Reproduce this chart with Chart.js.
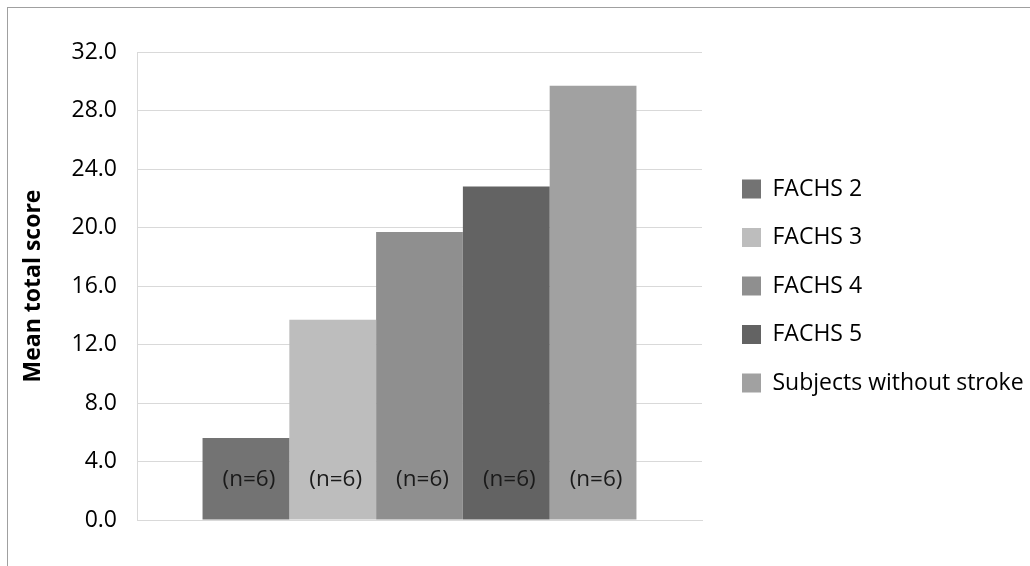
<!DOCTYPE html>
<html>
<head>
<meta charset="utf-8">
<script src="https://cdn.jsdelivr.net/npm/chart.js@4/dist/chart.umd.min.js"></script>
<style>
  html, body { margin: 0; padding: 0; background: #fff; overflow: hidden; }
  #frame { position: absolute; left: 7px; top: 7px; width: 1100px; height: 700px;
           border-left: 1px solid #a0a0a0; border-top: 1px solid #a0a0a0; }
  #wrap { position: absolute; left: 0; top: 0; width: 1030px; height: 566px; }
</style>
</head>
<body>
<div id="frame"></div>
<div id="wrap"><canvas id="chart" width="1030" height="566"></canvas></div>
<script>
// Groups and their mean total scores
const groups = ['FACHS 2', 'FACHS 3', 'FACHS 4', 'FACHS 5', 'Subjects without stroke'];
const meanScores = [5.6, 13.7, 19.7, 22.8, 29.7];
const sampleSizes = [6, 6, 6, 6, 6];
const groupColors = ['#737373', '#bdbdbd', '#8f8f8f', '#636363', '#a1a1a1'];
const yTickValues = [0, 4, 8, 12, 16, 20, 24, 28, 32];

const FONT = "'Open Sans', 'DejaVu Sans', sans-serif";
const CANVAS_W = 1030;
const LEGEND_FONT = 23;
const LEGEND_BOX = 19;
const LEGEND_PAD = 25.5;
const LEGEND_LEFT = 716.5;   // legend block starts here, boxes at LEGEND_LEFT + LEGEND_PAD

// Width the legend will claim: padding + box + half font + longest label + 10
function legendWidth() {
  const c = document.createElement('canvas').getContext('2d');
  c.font = LEGEND_FONT + 'px ' + FONT;
  const longest = Math.max(...groups.map(g => c.measureText(g).width));
  return LEGEND_PAD + LEGEND_BOX + LEGEND_FONT / 2 + longest + 10;
}
const LEGEND_W = legendWidth();

// Writes "(n=…)" inside the foot of each bar
const sampleSizeLabels = {
  id: 'sampleSizeLabels',
  afterDatasetsDraw(chart) {
    const ctx = chart.ctx;
    const area = chart.chartArea;
    ctx.save();
    ctx.font = '22.5px ' + FONT;
    ctx.fillStyle = '#1a1a1a';
    ctx.textAlign = 'center';
    ctx.textBaseline = 'middle';
    chart.data.datasets.forEach((ds, i) => {
      const bar = chart.getDatasetMeta(i).data[0];
      ctx.fillText('(n=' + sampleSizes[i] + ')', bar.x + 3, area.bottom - 40);
    });
    ctx.restore();
  }
};

new Chart(document.getElementById('chart'), {
  type: 'bar',
  data: {
    labels: [''],
    datasets: groups.map((g, i) => ({
      label: g,
      data: [meanScores[i]],
      backgroundColor: groupColors[i],
      borderWidth: 0,
      categoryPercentage: 0.768,
      barPercentage: 1.0
    }))
  },
  options: {
    responsive: false,
    animation: false,
    devicePixelRatio: 1,
    layout: { padding: { top: 52, bottom: 46, left: 0, right: CANVAS_W - LEGEND_LEFT - LEGEND_W } },
    plugins: {
      tooltip: { enabled: false },
      legend: {
        position: 'right',
        maxWidth: 600,
        labels: {
          boxWidth: LEGEND_BOX,
          boxHeight: LEGEND_BOX,
          padding: LEGEND_PAD,
          color: '#000',
          font: { family: FONT, size: LEGEND_FONT }
        }
      }
    },
    scales: {
      x: {
        ticks: { display: false },
        grid: { display: false },
        border: { display: true, color: '#d9d9d9', width: 1 },
        afterFit(scale) { scale.height = 0; }
      },
      y: {
        min: 0,
        max: 32,
        afterBuildTicks(scale) { scale.ticks = yTickValues.map(v => ({ value: v })); },
        afterFit(scale) { scale.width = 137; },
        ticks: {
          padding: 20,
          color: '#000',
          font: { family: FONT, size: 23 },
          callback: v => v.toFixed(1)
        },
        grid: { color: '#d9d9d9', drawTicks: false },
        border: { display: true, color: '#d9d9d9' },
        title: {
          display: true,
          text: 'Mean total score',
          color: '#000',
          font: { family: FONT, size: 23, weight: 'bold' },
          padding: { top: 20, bottom: 0 }
        }
      },
      gap: {
        position: 'right',
        display: true,
        grid: { display: false },
        border: { display: false },
        ticks: { display: false },
        afterFit(scale) { scale.width = 14.5; }
      }
    }
  },
  plugins: [sampleSizeLabels]
});
</script>
</body>
</html>
